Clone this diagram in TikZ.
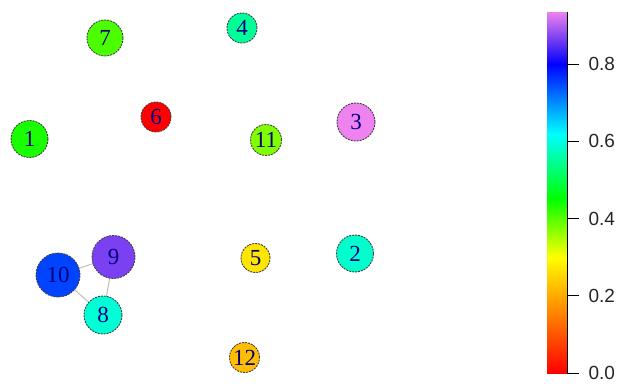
\documentclass[tikz,border=0pt]{standalone}
\usepackage{fontspec}
\setmainfont{Liberation Serif}
\setsansfont{Liberation Sans}
\begin{document}
\begin{tikzpicture}[x=1pt,y=-1pt,
  vtx/.style={circle,draw=black!75,dash pattern=on 2pt off 1pt,line width=0.9pt,inner sep=0pt,
    text=blue!50!black,font=\fontsize{23}{23}\selectfont},
  edg/.style={draw=black!25,line width=1pt},
  tick/.style={line width=0.8pt},
  ticklab/.style={anchor=west,font=\sffamily\fontsize{19}{19}\selectfont,text=black!85}]
\useasboundingbox[fill=white] (0,0) rectangle (620,383);
\definecolor{c1}{HTML}{1AFF00}
\definecolor{c2}{HTML}{00FFCC}
\definecolor{c3}{HTML}{EE82EE}
\definecolor{c4}{HTML}{00FF99}
\definecolor{c5}{HTML}{FFE600}
\definecolor{c6}{HTML}{FF0000}
\definecolor{c7}{HTML}{4CFF00}
\definecolor{c8}{HTML}{00FFD5}
\definecolor{c9}{HTML}{7A40F2}
\definecolor{c10}{HTML}{0044FF}
\definecolor{c11}{HTML}{80FF00}
\definecolor{c12}{HTML}{FFBF00}
% edges first
\coordinate (p10) at (58,275);
\coordinate (p9) at (113.5,257);
\coordinate (p8) at (103,315);
\draw[edg] (p10) -- (p9) (p10) -- (p8) (p9) -- (p8);
\node[vtx,fill=c7,minimum size=36pt] (n7) at (105,38) {7};
\node[vtx,fill=c4,minimum size=30pt] (n4) at (242,28) {4};
\node[vtx,fill=c6,minimum size=30pt] (n6) at (156,117) {6};
\node[vtx,fill=c1,minimum size=37pt] (n1) at (29.5,139) {1};
\node[vtx,fill=c11,minimum size=31pt] (n11) at (266,140) {11};
\node[vtx,fill=c3,minimum size=38pt] (n3) at (356,122) {3};
\node[vtx,fill=c5,minimum size=29pt] (n5) at (255.5,258) {5};
\node[vtx,fill=c2,minimum size=37pt] (n2) at (355,253.5) {2};
\node[vtx,fill=c12,minimum size=30pt] (n12) at (244.5,357.5) {12};
\node[vtx,fill=c10,minimum size=44pt] (n10) at (p10) {10};
\node[vtx,fill=c9,minimum size=43pt] (n9) at (p9) {9};
\node[vtx,fill=c8,minimum size=38pt] (n8) at (p8) {8};
% colour bar
\shade[bottom color=red, top color=orange] (547,373) rectangle (567,315);
\shade[bottom color=orange, top color=yellow] (547,315.1) rectangle (567,257);
\shade[bottom color=yellow, top color=green] (547,257.1) rectangle (567,199);
\shade[bottom color=green, top color=cyan] (547,199.1) rectangle (567,134);
\shade[bottom color=cyan, top color=blue] (547,134.1) rectangle (567,64);
\shade[bottom color=blue, top color=c9] (547,64.1) rectangle (567,38);
\shade[bottom color=c9, top color=c3] (547,38.1) rectangle (567,12);
\draw[tick] (567,12) -- (567,373);
\foreach \v/\y in {0.0/373,0.2/295.75,0.4/218.5,0.6/141.25,0.8/64}{
  \draw[tick] (567,\y) -- (579,\y);
  \node[ticklab] at (585,\y) {\v};
}
\end{tikzpicture}
\end{document}
